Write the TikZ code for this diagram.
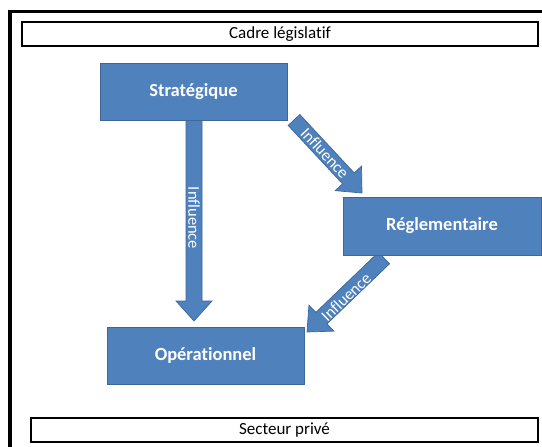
\documentclass[tikz,border=0pt]{standalone}
\usepackage{fontspec}
\setmainfont{Carlito}[Ligatures=NoCommon]
\usetikzlibrary{calc}
\definecolor{boxblue}{HTML}{4F81BD}
\definecolor{boxedge}{HTML}{3E6796}
\tikzset{
  bluebox/.style={draw=boxedge, line width=0.9pt, fill=boxblue, text=white,
    font=\fontsize{18.5}{21}\selectfont\bfseries, inner sep=0pt},
  framebox/.style={draw=black, line width=1.3pt, fill=white, inner sep=0pt,
    font=\fontsize{17}{19}\selectfont},
  arrowbody/.style={fill=boxblue, draw=boxedge, line width=0.7pt, line join=miter},
  arrowlabel/.style={text=white, font=\fontsize{16.5}{18}\selectfont, inner sep=0pt}
}
\newcommand{\blockarrowdraw}[2]{%
  \coordinate (ah) at ($(#2)!20pt!(#1)$);
  \path[arrowbody] ($(#1)!8pt!90:(#2)$) -- ($(ah)!8pt!90:(#2)$) -- ($(ah)!18pt!90:(#2)$)
    -- (#2) -- ($(ah)!18pt!-90:(#2)$) -- ($(ah)!8pt!-90:(#2)$) -- ($(#1)!8pt!-90:(#2)$) -- cycle;
}
\begin{document}
\begin{tikzpicture}[x=1pt, y=-1pt]
  \useasboundingbox (0,0) rectangle (542,447);
  \fill[white] (0,0) rectangle (542,447);
  % outer frame
  \draw[line width=3.5pt] (10,460) -- (10,11.5) -- (560,11.5);

  \node[framebox, minimum width=516pt, minimum height=24pt] (cadre) at (280,34) {Cadre législatif};
  \node[framebox, minimum width=507pt, minimum height=24pt] (prive) at (284.5,430) {Secteur privé};

  % arrow end points
  \coordinate (a1s) at (194,118);
  \coordinate (a1t) at (194,321);
  \coordinate (a2s) at (294,120);
  \coordinate (a2t) at (362,193);
  \coordinate (a3s) at (384,258);
  \coordinate (a3t) at (307,332);

  \blockarrowdraw{a1s}{a1t}
  \blockarrowdraw{a2s}{a2t}
  \blockarrowdraw{a3s}{a3t}

  \node[arrowlabel, rotate=-90] (l1) at (194,218) {Influence};
  \node[arrowlabel, rotate=-47] (l2) at (325,153) {Influence};
  \node[arrowlabel, rotate=44] (l3) at (346,297) {Influence};

  \node[bluebox, minimum width=187pt, minimum height=57pt] (strat) at (193.5,91.5) {Stratégique};
  \node[bluebox, minimum width=198pt, minimum height=58pt] (regl) at (442,226) {Réglementaire};
  \node[bluebox, minimum width=197pt, minimum height=57pt] (oper) at (205.5,355.5) {Opérationnel};
\end{tikzpicture}
\end{document}
